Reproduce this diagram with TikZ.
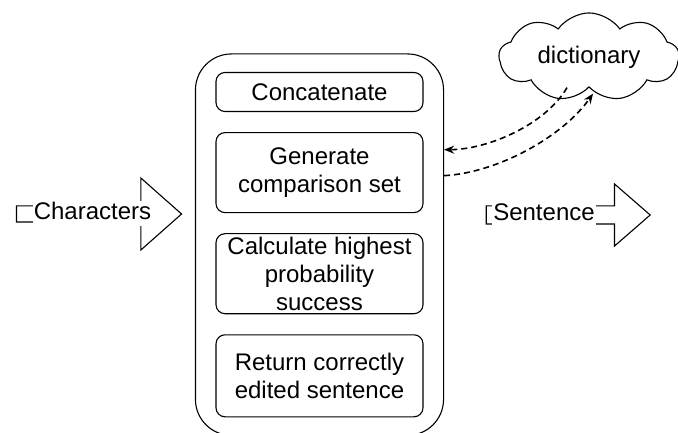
\documentclass[tikz,border=0pt]{standalone}
\usepackage{fontspec}
\setmainfont{Liberation Sans}
\usetikzlibrary{shapes.arrows, shapes.symbols, positioning, fit, arrows.meta}

\begin{document}
\begin{tikzpicture}[
    x=1pt, y=1pt,
    node distance=20pt,
    % inner processing steps
    stage/.style={rectangle, draw, rounded corners=9pt, align=center, minimum width=207pt, inner sep=2pt, line width=1.1pt, font=\fontsize{24}{28}\selectfont},
    container/.style={rectangle, draw, rounded corners=36pt, inner xsep=20pt, inner ysep=18pt, line width=1.1pt},
    % block arrows for input and output
    blockarrow/.style={single arrow, draw, line width=1.1pt, inner sep=0pt},
    lbl/.style={fill=white, inner sep=1pt, text height=17pt, text depth=6pt, font=\fontsize{24}{28}\selectfont},
    link/.style={dashed, dash pattern=on 6pt off 4pt, line width=1.6pt, -{Stealth[length=10pt, width=8pt]}}
]
    \useasboundingbox (0,0) rectangle (678,-433);

    % --- Steps inside the process box ---
    \node[stage, minimum height=39pt] (concat) at (319.5,-92) {Concatenate};
    \node[stage, minimum height=80pt] (generate) [below=of concat] {Generate\\comparison set};
    \node[stage, minimum height=80pt] (calc) [below=of generate] {Calculate highest\\probability\\success};
    \node[stage, minimum height=82pt] (ret) [below=of calc] {Return correctly\\edited sentence};
    \node[container, fit=(concat) (generate) (calc) (ret)] (proc) {};

    % --- Input and output ---
    \node[blockarrow, minimum height=165pt, inner ysep=7.5pt, single arrow head extend=28pt, single arrow tip angle=83] (chars) at (94.5,-214) {};
    \node[lbl, xshift=-2pt] (chars_lbl) at (chars.center) {Characters};
    \node[blockarrow, minimum height=164pt, inner ysep=8.5pt, single arrow head extend=22pt, single arrow tip angle=82] (sent) at (563,-215) {};
    \node[lbl, xshift=-19pt] (sent_lbl) at (sent.center) {Sentence};

    % --- Dictionary lookup ---
    \node[cloud, draw, line width=1.1pt, cloud puffs=9, cloud puff arc=110, aspect=2.4, minimum width=180pt, minimum height=86pt, font=\fontsize{24}{28}\selectfont] (dict) at (589,-57) {dictionary};
    \coordinate[left=22pt of dict.south] (dict_out);
    \coordinate[below=6pt of dict.south, xshift=4pt] (dict_in);
    \coordinate[above=95pt of proc.east] (lookup_in);
    \coordinate[above=69pt of proc.east] (lookup_out);

    \draw[link] (dict_out) to[out=240, in=0, looseness=0.8] (lookup_in);
    \draw[link] (lookup_out) to[out=3, in=235, looseness=0.8] (dict_in);
\end{tikzpicture}
\end{document}
